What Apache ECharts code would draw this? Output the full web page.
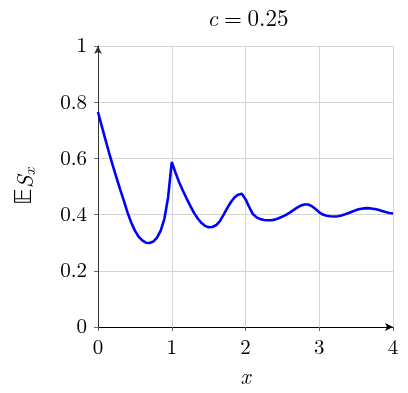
<!DOCTYPE html>
<html>
<head>
<meta charset="utf-8">
<script src="https://cdn.jsdelivr.net/npm/echarts@6/dist/echarts.min.js"></script>
<style>html,body{margin:0;padding:0;background:#fff}#c{width:408px;height:393px}</style>
</head>
<body>
<div id="c"></div>
<script>
var xValues = [0,0.05,0.1,0.15,0.2,0.25,0.3,0.35,0.4,0.45,0.5,0.55,0.6,0.65,0.7,0.75,0.8,0.85,0.9,0.95,1.0,
  1.05,1.1,1.15,1.2,1.25,1.3,1.35,1.4,1.45,1.5,1.55,1.6,1.65,1.7,1.75,1.8,1.85,1.9,1.95,2.0,
  2.05,2.1,2.15,2.2,2.25,2.3,2.35,2.4,2.45,2.5,2.55,2.6,2.65,2.7,2.75,2.8,2.85,2.9,2.95,3.0,
  3.05,3.1,3.15,3.2,3.25,3.3,3.35,3.4,3.45,3.5,3.55,3.6,3.65,3.7,3.75,3.8,3.85,3.9,3.95,4.0];
var esValues = [0.765,0.716,0.668,0.62,0.575,0.532,0.49,0.45,0.408,0.372,0.343,0.322,0.308,0.300,0.299,0.304,0.318,0.343,0.385,0.46,0.587,
  0.55,0.515,0.486,0.458,0.432,0.407,0.387,0.371,0.36,0.355,0.356,0.362,0.376,0.398,0.422,0.444,0.461,0.471,0.474,0.455,
  0.427,0.402,0.39,0.384,0.381,0.38,0.38,0.382,0.387,0.393,0.399,0.407,0.416,0.425,0.432,0.436,0.436,0.430,0.420,0.408,
  0.400,0.396,0.394,0.393,0.394,0.397,0.401,0.406,0.411,0.416,0.42,0.422,0.423,0.422,0.42,0.417,0.413,0.409,0.406,0.404];
var xTicks = [0,1,2,3,4];
var yTicks = [0,0.2,0.4,0.6,0.8,1];

var chart = echarts.init(document.getElementById('c'), null, {renderer:'canvas'});
var serif = '"Latin Modern Roman","Liberation Serif","DejaVu Serif",serif';
var pts = xValues.map(function(x,i){return [x, esValues[i]];});
chart.setOption({
  animation:false,
  backgroundColor:'#fff',
  title:{
    text:'{i|c}{n|\u2005=\u2005}{n|0.25}',
    left:243, top:2, textAlign:'center',
    textStyle:{fontWeight:'normal',rich:{
      i:{fontFamily:serif,fontStyle:'italic',fontWeight:'normal',fontSize:23,color:'#000'},
      n:{fontFamily:serif,fontWeight:'normal',fontSize:23,color:'#000'}
    }}
  },
  grid:{left:98,right:15,top:46,bottom:62},
  xAxis:{
    type:'value',min:xTicks[0],max:xTicks[xTicks.length-1],interval:1,
    name:'{i|x}',nameLocation:'middle',nameGap:39,
    nameTextStyle:{rich:{i:{fontFamily:serif,fontStyle:'italic',fontSize:22,color:'#000'}}},
    axisLine:{lineStyle:{color:'#000',width:1},symbol:['none','arrow'],symbolSize:[6,8]},
    axisTick:{show:true,inside:false,length:4,lineStyle:{color:'#666'}},
    axisLabel:{fontFamily:serif,fontSize:21,color:'#000',margin:10},
    splitLine:{show:true,lineStyle:{color:'#d4d4d4',width:1}}
  },
  yAxis:{
    type:'value',min:yTicks[0],max:yTicks[yTicks.length-1],interval:0.2,
    name:'{b|𝔼}{i|S}{s|x}',nameLocation:'middle',nameGap:60,nameRotate:90,
    nameTextStyle:{rich:{
      b:{fontFamily:'"DejaVu Sans",serif',fontSize:23,color:'#000'},
      i:{fontFamily:serif,fontStyle:'italic',fontSize:23,color:'#000'},
      s:{fontFamily:serif,fontStyle:'italic',fontSize:16,color:'#000',verticalAlign:'bottom',padding:[9,0,0,0]}
    }},
    axisLine:{lineStyle:{color:'#333',width:1},symbol:['none','arrow'],symbolSize:[6,8]},
    axisTick:{show:true,inside:false,length:4,lineStyle:{color:'#666'}},
    axisLabel:{fontFamily:serif,fontSize:21,color:'#000',margin:11,
      formatter:function(v){return String(Math.round(v*10)/10);}},
    splitLine:{show:true,lineStyle:{color:'#d4d4d4',width:1}}
  },
  series:[{
    type:'line',data:pts,showSymbol:false,smooth:false,
    lineStyle:{color:'#0000ff',width:2.6},
    z:3
  }]
});
</script>
</body>
</html>
